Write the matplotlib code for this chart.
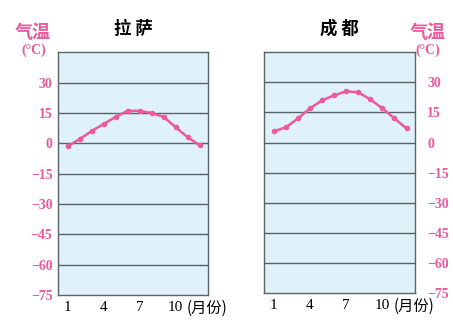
import matplotlib.pyplot as plt
import numpy as np

plt.rcParams['font.family'] = ['Liberation Serif', 'Noto Sans CJK SC', 'DejaVu Sans']

months = list(range(1, 13))
lhasa = [-1.5, 2, 6, 9.5, 13, 16, 16, 15, 13, 8, 3, -1]
chengdu = [5.6, 7.5, 12, 17, 21, 23.5, 25.5, 25, 21.5, 17, 12, 7]
city_names = ["拉 萨", "成 都"]
y_ticks = [30, 15, 0, -15, -30, -45, -60, -75]
x_ticks = [1, 4, 7, 10]

pink = "#ec5a9b"
bg = "#dff1f9"
grid_c = "#5a6468"

fig = plt.figure(figsize=(4.53, 3.2), dpi=100)
ax1 = fig.add_axes([0.128, 0.078, 0.331, 0.759])
ax2 = fig.add_axes([0.583, 0.084, 0.333, 0.753])

for ax, data, name in [(ax1, lhasa, city_names[0]), (ax2, chengdu, city_names[1])]:
    ax.set_facecolor(bg)
    ax.set_xlim(0.2, 12.7)
    ax.set_ylim(-75, 45)
    for v in y_ticks[:-1]:
        ax.axhline(v, color=grid_c, lw=1.0, zorder=1)
    ax.plot(months, data, color=pink, lw=1.8, marker='o', ms=3, zorder=3)
    for s in ax.spines.values():
        s.set_color(grid_c)
        s.set_linewidth(1.0)
    ax.set_xticks(x_ticks)
    ax.set_xticklabels(["1", "4", "7", "10"], fontsize=11)
    ax.tick_params(axis='x', length=0, pad=4)
    ax.set_yticks(y_ticks)
    ax.set_yticklabels([str(v).replace('-', '\u2212') for v in y_ticks],
                       fontsize=10, color=pink, fontweight='bold')
    ax.tick_params(axis='y', length=0, pad=4)
    ax.set_title(name, fontsize=12.5, family=['Noto Sans CJK SC'],
                 fontweight='bold', pad=13)
    ax.text(10.95, -81.5, "(月份)", fontsize=11, ha='left', va='center',
            family=['Noto Sans CJK SC'], clip_on=False)

ax2.yaxis.tick_right()
ax2.tick_params(axis='y', length=0, pad=9)

fig.text(0.073, 0.90, "气温", color=pink, fontsize=13, ha='center', va='center',
         family=['Noto Sans CJK SC'], fontweight='bold')
fig.text(0.075, 0.843, "(°C)", color=pink, fontsize=10, ha='center', va='center',
         fontweight='bold')
fig.text(0.945, 0.90, "气温", color=pink, fontsize=13, ha='center', va='center',
         family=['Noto Sans CJK SC'], fontweight='bold')
fig.text(0.945, 0.843, "(°C)", color=pink, fontsize=10, ha='center', va='center',
         fontweight='bold')

fig.savefig("out.png", dpi=100)
